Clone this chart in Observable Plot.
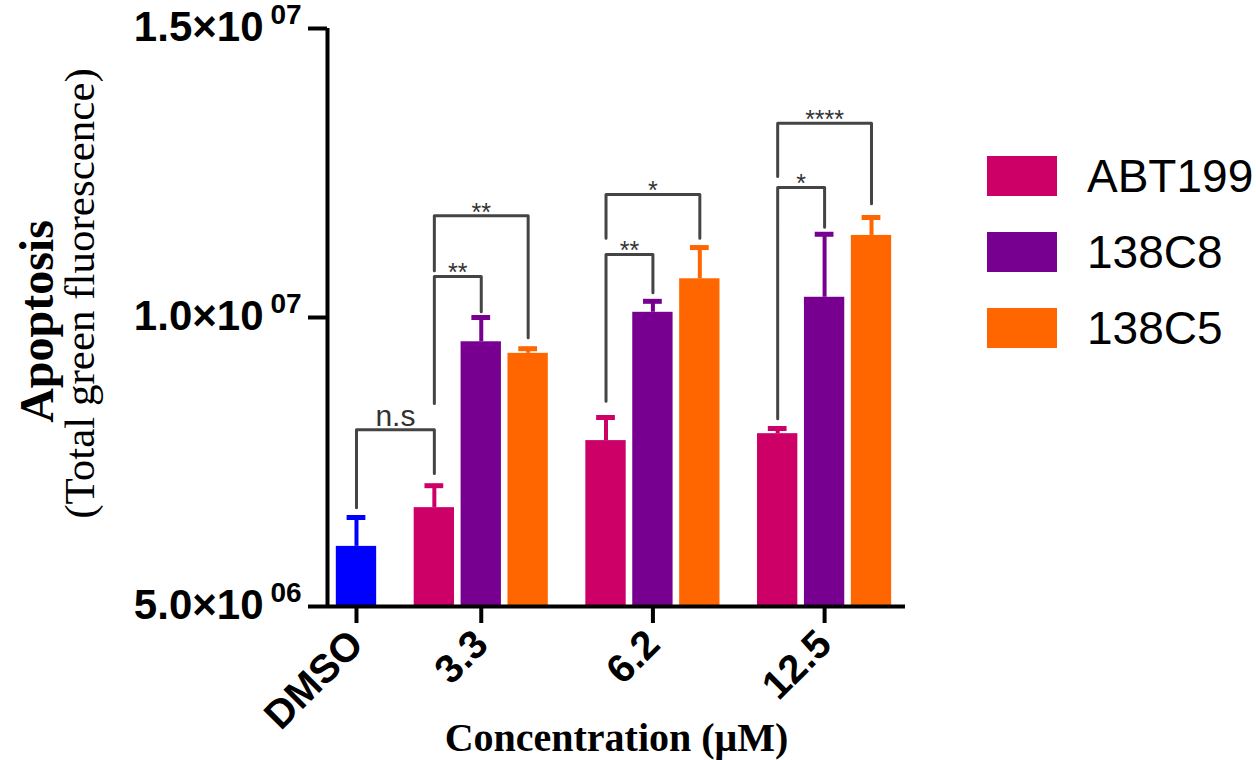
<!DOCTYPE html>
<html><head><meta charset="utf-8">
<script src="https://cdn.jsdelivr.net/npm/d3@7"></script>
<script src="https://cdn.jsdelivr.net/npm/@observablehq/plot@0.6"></script>
<style>
body{margin:0;background:#fff;}
#wrap{position:relative;width:1256px;height:760px;overflow:hidden;}
#wrap > svg{position:absolute;left:0;top:0;}
#legend{position:absolute;left:987px;top:138px;width:269px;}
#legend .lg-swatches{margin:0 !important;columns:1 !important;width:269px;}
#legend .lg-swatch{height:76px;padding-bottom:0 !important;display:flex;align-items:center;width:269px;overflow:visible !important;}
#legend .lg-swatch svg{margin-right:30px !important;flex-shrink:0;}
#legend .lg-swatch *{overflow:visible !important;text-overflow:clip !important;white-space:nowrap;}
</style></head><body><div id="wrap"><div id="legend"></div></div>
<script>
// ---- data ----
const groups = ["DMSO", "3.3", "6.2", "12.5"];
const series = ["ABT199", "138C8", "138C5"];
const seriesColors = ["#CC0066", "#770090", "#FF6600"];
const dmsoColor = "#0000FF";
const dmsoValue = 6.04e6;
const dmsoError = 0.50e6;
const abt199 = [6.71e6, 7.87e6, 7.99e6];
const c8 = [9.58e6, 10.09e6, 10.35e6];
const c5 = [9.38e6, 10.67e6, 11.42e6];
const abt199Err = [0.38e6, 0.40e6, 0.09e6];
const c8Err = [0.42e6, 0.19e6, 1.09e6];
const c5Err = [0.08e6, 0.54e6, 0.31e6];
const yTicks = [5e6, 1e7, 1.5e7];
const yTickMantissa = ["5.0", "1.0", "1.5"];
const yTickExponent = ["06", "07", "07"];
// significance brackets
const bracketFrom = ["DMSO", "3.3|ABT199", "3.3|ABT199", "6.2|ABT199", "6.2|ABT199", "12.5|ABT199", "12.5|ABT199"];
const bracketTo = ["3.3|ABT199", "3.3|138C8", "3.3|138C5", "6.2|138C8", "6.2|138C5", "12.5|138C8", "12.5|138C5"];
const bracketTop = [8.06e6, 10.71e6, 11.76e6, 11.09e6, 12.13e6, 12.25e6, 13.36e6];
const bracketLeftEnd = [6.71e6, 8.51e6, 10.81e6, 8.55e6, 11.37e6, 8.25e6, 12.44e6];
const bracketRightEnd = [7.30e6, 10.10e6, 9.65e6, 10.43e6, 11.37e6, 11.56e6, 11.97e6];
const bracketLabel = ["n.s", "**", "**", "**", "*", "*", "****"];

// ---- table ----
const groupGap = 0.66;
const vals = [abt199, c8, c5], errs = [abt199Err, c8Err, c5Err];
const bars = [{key: "DMSO", series: "DMSO", pos: 0, value: dmsoValue, err: dmsoError}];
groups.slice(1).forEach((g, gi) => series.forEach((s, si) => bars.push({
  key: `${g}|${s}`, series: s, pos: 1 + groupGap + gi * (3 + groupGap) + si,
  value: vals[si][gi], err: errs[si][gi]
})));
const posOf = new Map(bars.map(d => [d.key, d.pos]));
const tickPos = groups.map((g, i) => i === 0 ? posOf.get("DMSO") : posOf.get(`${g}|${series[1]}`));
const tickLabel = new Map(tickPos.map((p, i) => [p, groups[i]]));
const brackets = bracketLabel.map((t, i) => ({
  i, label: t, x1: posOf.get(bracketFrom[i]), x2: posOf.get(bracketTo[i]),
  top: bracketTop[i], l: bracketLeftEnd[i], r: bracketRightEnd[i]
}));
const bracketPts = brackets.flatMap(b => [
  {id: b.i, x: b.x1, y: b.l}, {id: b.i, x: b.x1, y: b.top},
  {id: b.i, x: b.x2, y: b.top}, {id: b.i, x: b.x2, y: b.r}
]);
const yRows = yTicks.map((v, i) => ({v, base: yTickMantissa[i] + "×10", exp: yTickExponent[i]}));

const xMin = -0.618, xMax = 11.705;
const halfW = 0.43, capW = 0.2;
const sans = "'Liberation Sans', Arial, sans-serif";
const serif = "'Liberation Serif', 'Times New Roman', serif";

const chart = Plot.plot({
  width: 1256, height: 760,
  marginLeft: 327, marginRight: 351, marginTop: 28, marginBottom: 154,
  x: {domain: [xMin, xMax], axis: null},
  y: {domain: [5e6, 1.5e7], axis: null},
  color: {domain: ["DMSO", ...series], range: [dmsoColor, ...seriesColors]},
  style: {fontFamily: sans, color: "black", background: "white", overflow: "visible"},
  marks: [
    Plot.rect(bars, {x1: d => d.pos - halfW, x2: d => d.pos + halfW, y1: 5e6, y2: "value", fill: "series"}),
    Plot.ruleX(bars, {x: "pos", y1: "value", y2: d => d.value + d.err, stroke: "series", strokeWidth: 4}),
    Plot.ruleY(bars, {y: d => d.value + d.err, x1: d => d.pos - capW, x2: d => d.pos + capW, stroke: "series", strokeWidth: 5}),
    Plot.line(bracketPts, {x: "x", y: "y", z: "id", stroke: "#444", strokeWidth: 3, curve: "linear"}),
    Plot.text(brackets.filter(b => b.label !== "n.s"), {x: d => (d.x1 + d.x2) / 2, y: "top", text: "label",
      lineAnchor: "bottom", dy: 5, fontSize: 25, fill: "#333", fontFamily: sans}),
    Plot.text(brackets.filter(b => b.label === "n.s"), {x: d => (d.x1 + d.x2) / 2, y: "top", text: "label",
      lineAnchor: "bottom", dy: -4, fontSize: 30, fill: "#333", fontFamily: sans}),
    Plot.ruleX([xMin], {strokeWidth: 4, stroke: "black"}),
    Plot.ruleY([5e6], {strokeWidth: 4, stroke: "black"}),
    Plot.axisY({ticks: yTicks, tickSize: 19, strokeWidth: 4, tickFormat: () => "", label: null}),
    Plot.text(yRows, {y: "v", text: "base", frameAnchor: "left", textAnchor: "end", lineAnchor: "middle",
      dx: -64, dy: -1, fontSize: 42, fontWeight: "bold", fontFamily: sans}),
    Plot.text(yRows, {y: "v", text: "exp", frameAnchor: "left", textAnchor: "start", lineAnchor: "middle",
      dx: -57, dy: -13, fontSize: 28, fontWeight: "bold", fontFamily: sans}),
    Plot.axisX({ticks: tickPos, tickFormat: d => tickLabel.get(d), tickSize: 17, strokeWidth: 4,
      tickRotate: -45, fontSize: 40, fontWeight: "bold", label: null, tickPadding: 14}),
    Plot.text(["Concentration (μM)"], {frameAnchor: "bottom", lineAnchor: "bottom", dy: 144,
      fontSize: 40, fontWeight: "bold", fontFamily: serif}),
    Plot.text(["Apoptosis"], {frameAnchor: "left", rotate: -90, lineAnchor: "middle", textAnchor: "middle",
      dx: -290, dy: 4, fontSize: 48, fontWeight: "bold", fontFamily: serif}),
    Plot.text(["(Total green fluorescence)"], {frameAnchor: "left", rotate: -90, lineAnchor: "middle", textAnchor: "middle",
      dx: -247, dy: -24, fontSize: 43, fontFamily: serif})
  ]
});
document.getElementById("wrap").prepend(chart);

const legend = Plot.legend({
  color: {domain: series, range: seriesColors},
  legend: "swatches", swatchWidth: 70, swatchHeight: 40, columns: 1, className: "lg",
  style: {fontSize: "46px", fontFamily: sans, color: "#000"}
});
document.getElementById("legend").append(legend);
</script>
</body></html>
